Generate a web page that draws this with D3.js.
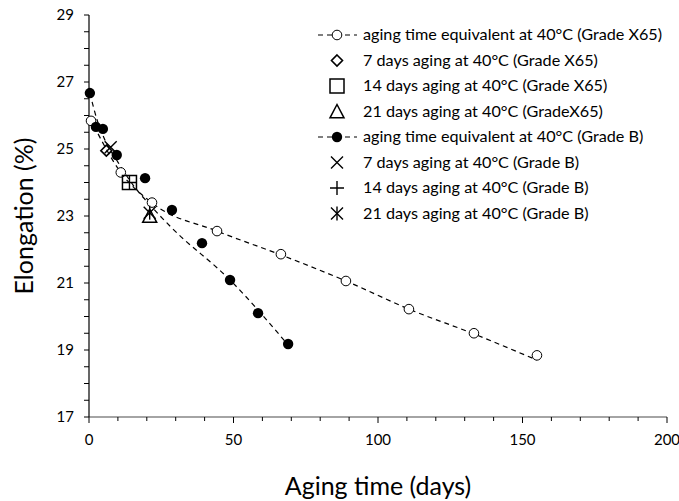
<!doctype html>
<html>
<head>
<meta charset="utf-8">
<title>Elongation vs aging time</title>
<style>
  body { margin: 0; background: #fff; }
  svg text { font-family: Lato, "Open Sans", sans-serif; fill: #000; }
</style>
</head>
<body>
<svg id="chart" width="679" height="501"></svg>
<script src="https://cdnjs.cloudflare.com/ajax/libs/d3/7.8.5/d3.min.js"></script>
<script>
// aging time equivalent at 40C, grade X65 (open circles)
var x65Days = [0.7, 11, 21.8, 44.3, 66.4, 88.9, 110.7, 133.2, 155];
var x65Elong = [25.84, 24.3, 23.4, 22.55, 21.86, 21.06, 20.22, 19.5, 18.84];
// dashed trend line for X65
var x65TrendDays = [0.3, 11, 21.8, 44.3, 66.4, 88.9, 110.7, 133.2, 155];
var x65TrendElong = [25.93, 24.3, 23.39, 22.55, 21.84, 21.06, 20.22, 19.48, 18.7];

// aging time equivalent at 40C, grade B (filled circles)
var bDays = [0.3, 2.4, 4.8, 9.6, 19.4, 28.7, 39.1, 48.8, 58.5, 68.9];
var bElong = [26.67, 25.66, 25.6, 24.82, 24.13, 23.18, 22.19, 21.09, 20.1, 19.18];
var bTrendDays = [0.3, 2.8, 5.5, 10, 15.2, 21.1, 28.7, 48.8, 68.9];
var bTrendElong = [26.67, 25.87, 25.27, 24.61, 23.93, 23.33, 22.64, 21.09, 19.15];

// single aging tests
var singleNames = ["7 days aging at 40°C (Grade X65)", "14 days aging at 40°C (Grade X65)",
  "21 days aging at 40°C (GradeX65)", "7 days aging at 40°C (Grade B)",
  "14 days aging at 40°C (Grade B)", "21 days aging at 40°C (Grade B)"];
var singleSymbols = ["diamond", "square", "triangle", "cross", "plus", "asterisk"];
var singleDays = [6, 14, 21, 7.5, 14, 21];
var singleElong = [24.95, 24.0, 23.0, 25.05, 24.0, 23.1];

var xTicks = [0, 50, 100, 150, 200];
var yTicks = [17, 19, 21, 23, 25, 27, 29];

var svg = d3.select("#chart");
var x = d3.scaleLinear().domain([0, 200]).range([89, 667]);
var y = d3.scaleLinear().domain([17, 29]).range([417, 15]);

// x axis (grey line, ticks downward)
var xAxis = svg.append("g").attr("transform", "translate(0," + y(17) + ")");
xAxis.append("line").attr("x1", x(0)).attr("x2", x(200)).attr("stroke", "#868686").attr("stroke-width", 1.3);
xAxis.selectAll(".minor").data(d3.range(0, 201, 10)).enter().append("line")
  .attr("x1", function (d) { return x(d); }).attr("x2", function (d) { return x(d); })
  .attr("y1", 0).attr("y2", function (d) { return d % 50 === 0 ? 6 : 4; })
  .attr("stroke", "#000").attr("stroke-width", 1);
xAxis.selectAll(".lab").data(xTicks).enter().append("text")
  .attr("x", function (d) { return x(d); }).attr("y", 28)
  .attr("text-anchor", "middle").style("font-size", "15px")
  .text(function (d) { return d; });

// y axis (black line, ticks to the left)
var yAxis = svg.append("g");
yAxis.append("line").attr("x1", x(0)).attr("x2", x(0)).attr("y1", y(17)).attr("y2", y(29))
  .attr("stroke", "#000").attr("stroke-width", 1.2);
yAxis.selectAll(".minor").data(d3.range(17, 29.01, 0.5)).enter().append("line")
  .attr("x1", x(0) - 5).attr("x2", x(0))
  .attr("y1", function (d) { return y(d); }).attr("y2", function (d) { return y(d); })
  .attr("stroke", "#000").attr("stroke-width", 1);
yAxis.selectAll(".lab").data(yTicks).enter().append("text")
  .attr("x", x(0) - 15).attr("y", function (d) { return y(d) + 5; })
  .attr("text-anchor", "end").style("font-size", "15px")
  .text(function (d) { return d; });

svg.append("text").attr("x", x(100)).attr("y", 495).attr("text-anchor", "middle")
  .style("font-size", "25px").text("Aging time (days)");
svg.append("text").attr("transform", "translate(33," + y(23) + ") rotate(-90)")
  .attr("text-anchor", "middle").style("font-size", "25px").text("Elongation (%)");

// trend lines
var line = d3.line().curve(d3.curveMonotoneX)
  .x(function (d) { return x(d[0]); }).y(function (d) { return y(d[1]); });
svg.append("path").datum(d3.zip(x65TrendDays, x65TrendElong)).attr("d", line)
  .attr("fill", "none").attr("stroke", "#000").attr("stroke-width", 1.2).attr("stroke-dasharray", "5,4");
svg.append("path").datum(d3.zip(bTrendDays, bTrendElong)).attr("d", line)
  .attr("fill", "none").attr("stroke", "#000").attr("stroke-width", 1.2).attr("stroke-dasharray", "5,4");

// symbol painter
function drawSymbol(g, kind, cx, cy) {
  var s = 7;
  if (kind === "open") {
    g.append("circle").attr("cx", cx).attr("cy", cy).attr("r", 4.8).attr("fill", "#fff").attr("stroke", "#000").attr("stroke-width", 1);
  } else if (kind === "filled") {
    g.append("circle").attr("cx", cx).attr("cy", cy).attr("r", 5.2).attr("fill", "#000");
  } else if (kind === "diamond") {
    g.append("path").attr("d", "M" + cx + "," + (cy - 5.5) + "L" + (cx + 5.5) + "," + cy + "L" + cx + "," + (cy + 5.5) + "L" + (cx - 5.5) + "," + cy + "Z")
      .attr("fill", "none").attr("stroke", "#000").attr("stroke-width", 1.6);
  } else if (kind === "square") {
    g.append("rect").attr("x", cx - s).attr("y", cy - s).attr("width", 2 * s).attr("height", 2 * s)
      .attr("fill", "none").attr("stroke", "#000").attr("stroke-width", 1.5);
  } else if (kind === "triangle") {
    g.append("path").attr("d", "M" + cx + "," + (cy - s) + "L" + (cx + s) + "," + (cy + s * 0.9) + "L" + (cx - s) + "," + (cy + s * 0.9) + "Z")
      .attr("fill", "none").attr("stroke", "#000").attr("stroke-width", 1.5);
  } else if (kind === "cross" || kind === "asterisk") {
    g.append("path").attr("d", "M" + (cx - 6) + "," + (cy - 6) + "L" + (cx + 6) + "," + (cy + 6) + "M" + (cx + 6) + "," + (cy - 6) + "L" + (cx - 6) + "," + (cy + 6))
      .attr("stroke", "#000").attr("stroke-width", 1.4);
    if (kind === "asterisk") {
      g.append("path").attr("d", "M" + cx + "," + (cy - 7) + "L" + cx + "," + (cy + 7)).attr("stroke", "#000").attr("stroke-width", 1.4);
    }
  } else if (kind === "plus") {
    g.append("path").attr("d", "M" + (cx - s) + "," + cy + "L" + (cx + s) + "," + cy + "M" + cx + "," + (cy - s) + "L" + cx + "," + (cy + s))
      .attr("stroke", "#000").attr("stroke-width", 1.4);
  }
}

var marks = svg.append("g");
d3.zip(x65Days, x65Elong).forEach(function (d) { drawSymbol(marks, "open", x(d[0]), y(d[1])); });
d3.zip(bDays, bElong).forEach(function (d) { drawSymbol(marks, "filled", x(d[0]), y(d[1])); });
singleSymbols.forEach(function (k, i) { drawSymbol(marks, k, x(singleDays[i]), y(singleElong[i])); });

// legend
var legendNames = ["aging time equivalent at 40°C (Grade X65)"].concat(singleNames.slice(0, 3))
  .concat(["aging time equivalent at 40°C (Grade B)"]).concat(singleNames.slice(3));
var legendSymbols = ["open"].concat(singleSymbols.slice(0, 3)).concat(["filled"]).concat(singleSymbols.slice(3));
var legend = svg.append("g");
legendNames.forEach(function (name, i) {
  var ly = 35 + i * 25.5;
  var sym = legendSymbols[i];
  var g = legend.append("g");
  if (sym === "open" || sym === "filled") {
    g.append("line").attr("x1", 318).attr("x2", 357).attr("y1", ly).attr("y2", ly)
      .attr("stroke", "#000").attr("stroke-width", 1.2).attr("stroke-dasharray", "5,4");
  }
  drawSymbol(g, sym, 337, ly);
  g.append("text").attr("x", 363).attr("y", ly + 5).style("font-size", "16.2px").text(name);
});
</script>
</body>
</html>
